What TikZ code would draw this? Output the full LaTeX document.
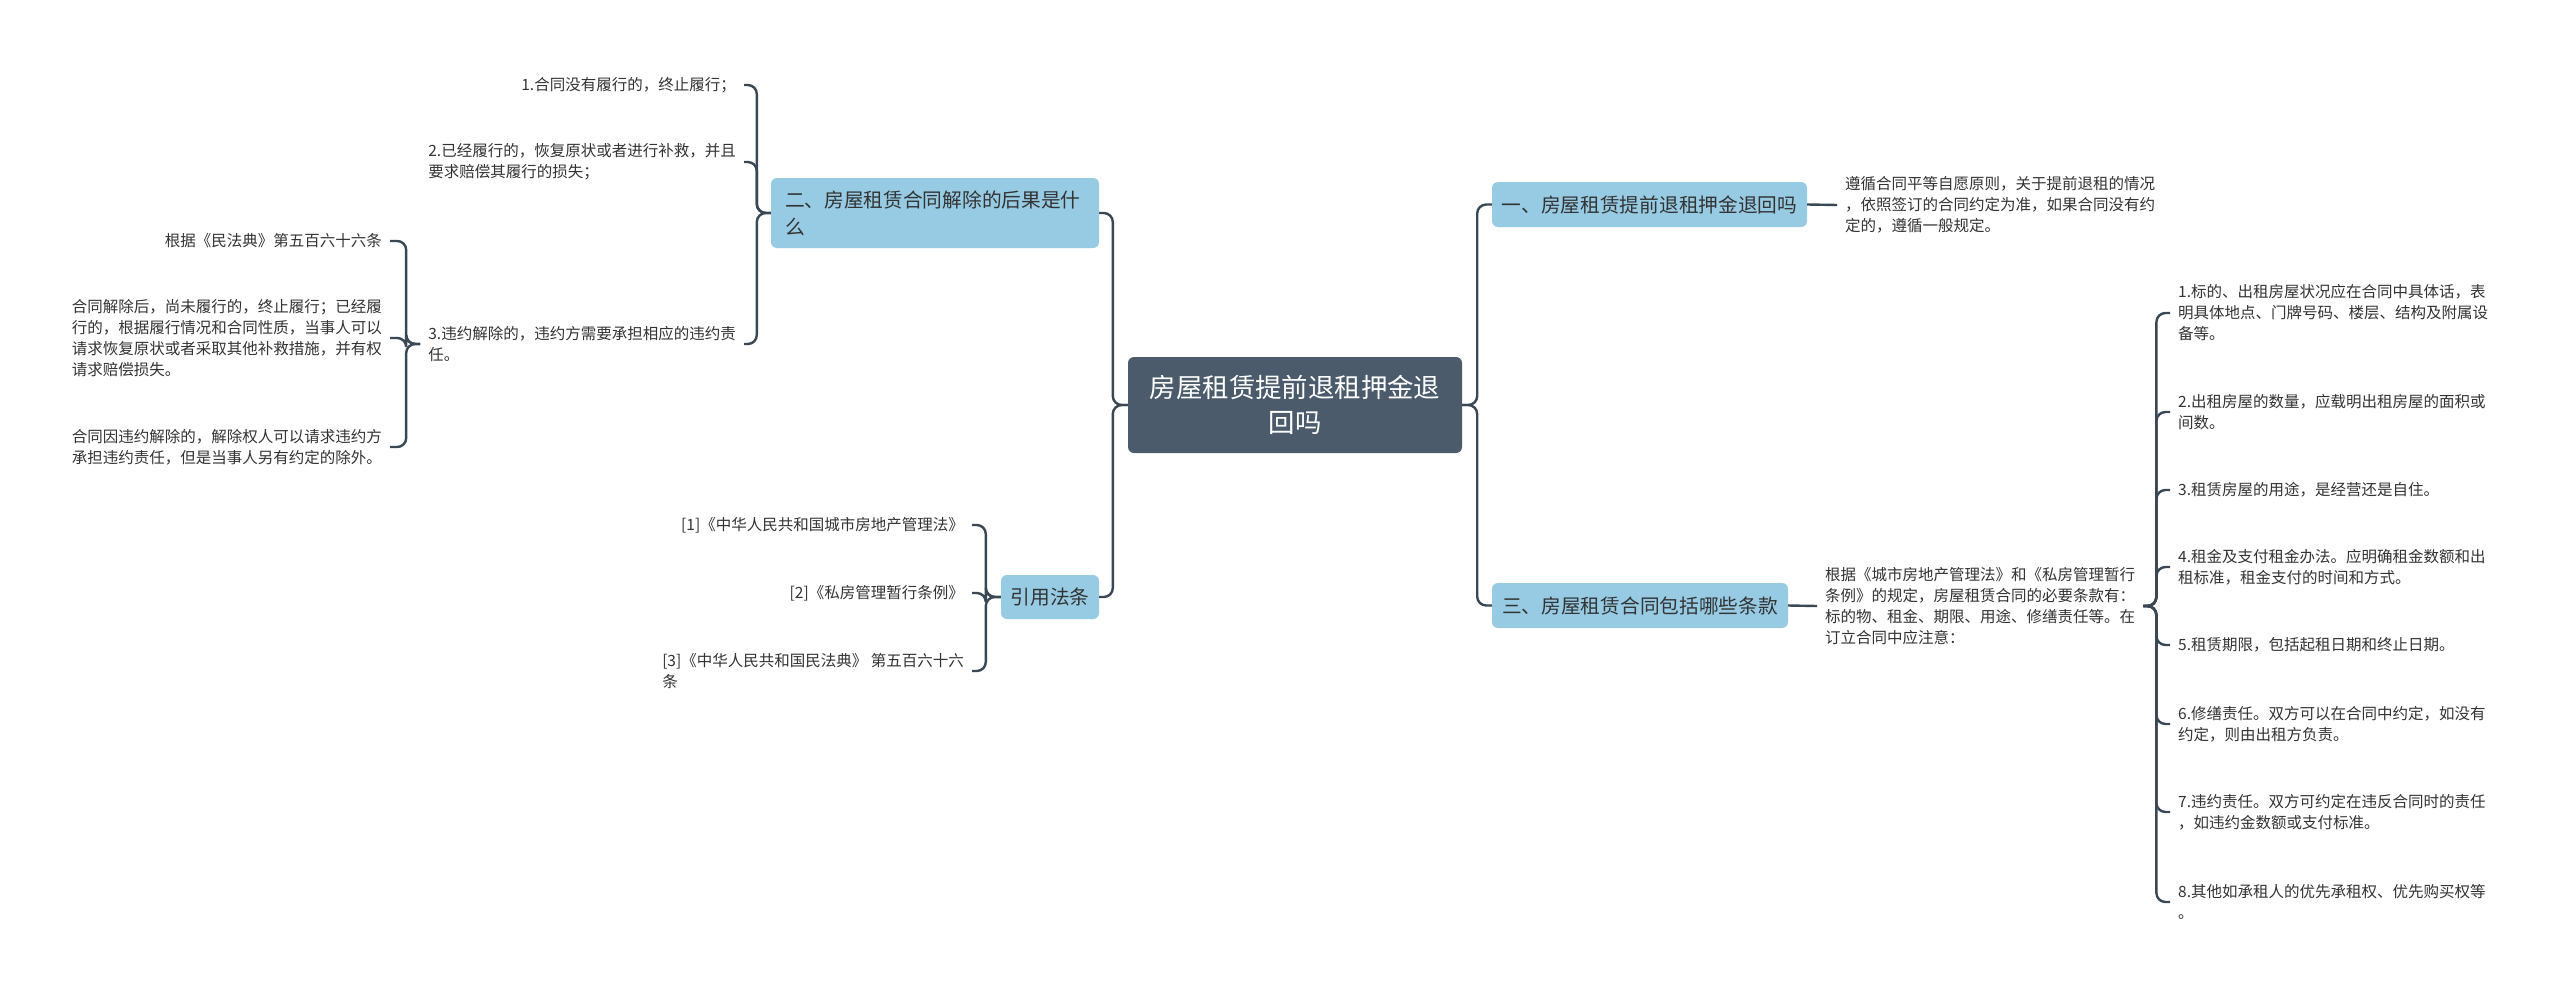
\documentclass[tikz,border=0pt]{standalone}
\usepackage{fontspec}
\setmainfont{Noto Sans CJK SC}
\definecolor{linec}{HTML}{3A4755}
\definecolor{ctrfill}{HTML}{4B5B6B}
\definecolor{brfill}{HTML}{96CBE3}
\definecolor{txt}{HTML}{333333}
\tikzset{
  conn/.style={draw=linec, line width=2.4pt, rounded corners=9pt},
  ctrbox/.style={fill=ctrfill, rounded corners=6pt, text=white, font=\fontsize{26.4}{35}\selectfont, align=center, minimum width=334pt, minimum height=96pt, inner sep=0pt},
  brbox/.style={fill=brfill, rounded corners=6pt, text=txt, font=\fontsize{19.7}{27}\selectfont, inner sep=0pt},
  leaf/.style={text=txt, font=\fontsize{15.5}{21}\selectfont, align=left, inner xsep=8pt, inner ysep=0pt},
}
\begin{document}
\begin{tikzpicture}[x=1pt,y=-1pt]
\fill[white] (0,0) rectangle (2560,993);
\useasboundingbox (0,0) rectangle (2560,993);

% centre
\node[ctrbox] (ctr) at (1295,405) {房屋租赁提前退租押金退\\回吗};

% left branches
\node[brbox, minimum width=328pt, minimum height=70pt, text width=300pt, align=left] (b2) at (935,213) {二、房屋租赁合同解除的后果是什\\么};
\node[brbox, minimum width=98pt, minimum height=44pt] (bq) at (1050,597) {引用法条};

% right branches
\node[brbox, minimum width=315pt, minimum height=45pt] (b1) at (1649.5,204.5) {一、房屋租赁提前退租押金退回吗};
\node[brbox, minimum width=296pt, minimum height=45pt] (b3) at (1640,605.5) {三、房屋租赁合同包括哪些条款};

% children of b2
\node[leaf, anchor=east] (L1) at (744,85) {1.合同没有履行的，终止履行；};
\node[leaf, anchor=east] (L2) at (744,162) {2.已经履行的，恢复原状或者进行补救，并且\\要求赔偿其履行的损失；};
\node[leaf, anchor=east] (L3) at (744,344) {3.违约解除的，违约方需要承担相应的违约责\\任。};

% children of L3
\node[leaf, anchor=east] (L31) at (390,241) {根据《民法典》第五百六十六条};
\node[leaf, anchor=east] (L32) at (390,338) {合同解除后，尚未履行的，终止履行；已经履\\行的，根据履行情况和合同性质，当事人可以\\请求恢复原状或者采取其他补救措施，并有权\\请求赔偿损失。};
\node[leaf, anchor=east] (L33) at (390,447) {合同因违约解除的，解除权人可以请求违约方\\承担违约责任，但是当事人另有约定的除外。};

% children of bq
\node[leaf, anchor=east] (R1) at (972,525) {[1]《中华人民共和国城市房地产管理法》};
\node[leaf, anchor=east] (R2) at (972,593) {[2]《私房管理暂行条例》};
\node[leaf, anchor=east] (R3) at (972,671) {[3]《中华人民共和国民法典》 第五百六十六\\条};

% child of b1
\node[leaf, anchor=west] (T1) at (1837,205) {遵循合同平等自愿原则，关于提前退租的情况\\，依照签订的合同约定为准，如果合同没有约\\定的，遵循一般规定。};

% child of b3
\node[leaf, anchor=west] (T3) at (1817,606) {根据《城市房地产管理法》和《私房管理暂行\\条例》的规定，房屋租赁合同的必要条款有：\\标的物、租金、期限、用途、修缮责任等。在\\订立合同中应注意：};

% children of T3
\node[leaf, anchor=west] (C1) at (2170,313) {1.标的、出租房屋状况应在合同中具体话，表\\明具体地点、门牌号码、楼层、结构及附属设\\备等。};
\node[leaf, anchor=west] (C2) at (2170,412) {2.出租房屋的数量，应载明出租房屋的面积或\\间数。};
\node[leaf, anchor=west] (C3) at (2170,490) {3.租赁房屋的用途，是经营还是自住。};
\node[leaf, anchor=west] (C4) at (2170,567) {4.租金及支付租金办法。应明确租金数额和出\\租标准，租金支付的时间和方式。};
\node[leaf, anchor=west] (C5) at (2170,645) {5.租赁期限，包括起租日期和终止日期。};
\node[leaf, anchor=west] (C6) at (2170,724) {6.修缮责任。双方可以在合同中约定，如没有\\约定，则由出租方负责。};
\node[leaf, anchor=west] (C7) at (2170,812) {7.违约责任。双方可约定在违反合同时的责任\\，如违约金数额或支付标准。};
\node[leaf, anchor=west] (C8) at (2170,902) {8.其他如承租人的优先承租权、优先购买权等\\。};

% connectors: trunk
\draw[conn] (ctr.west) -- ++(-15,0) |- (b2.east);
\draw[conn] (ctr.west) -- ++(-15,0) |- (bq.east);
\draw[conn] (ctr.east) -- ++(15,0) |- (b1.west);
\draw[conn] (ctr.east) -- ++(15,0) |- (b3.west);

% b2 children
\foreach \c in {L1,L2,L3}
  \draw[conn] (b2.west) -- ++(-14,0) |- (\c.east);
% L3 children
\foreach \c in {L31,L32,L33}
  \draw[conn] (L3.west) -- ++(-14,0) |- (\c.east);
% bq children
\foreach \c in {R1,R2,R3}
  \draw[conn] (bq.west) -- ++(-15,0) |- (\c.east);

% right side
\draw[conn] (b1.east) -- (T1.west);
\draw[conn] (b3.east) -- (T3.west);
\foreach \c in {C1,C2,C3,C4,C5,C6,C7,C8}
  \draw[conn] (T3.east) -- ++(13,0) |- (\c.west);
\end{tikzpicture}
\end{document}
